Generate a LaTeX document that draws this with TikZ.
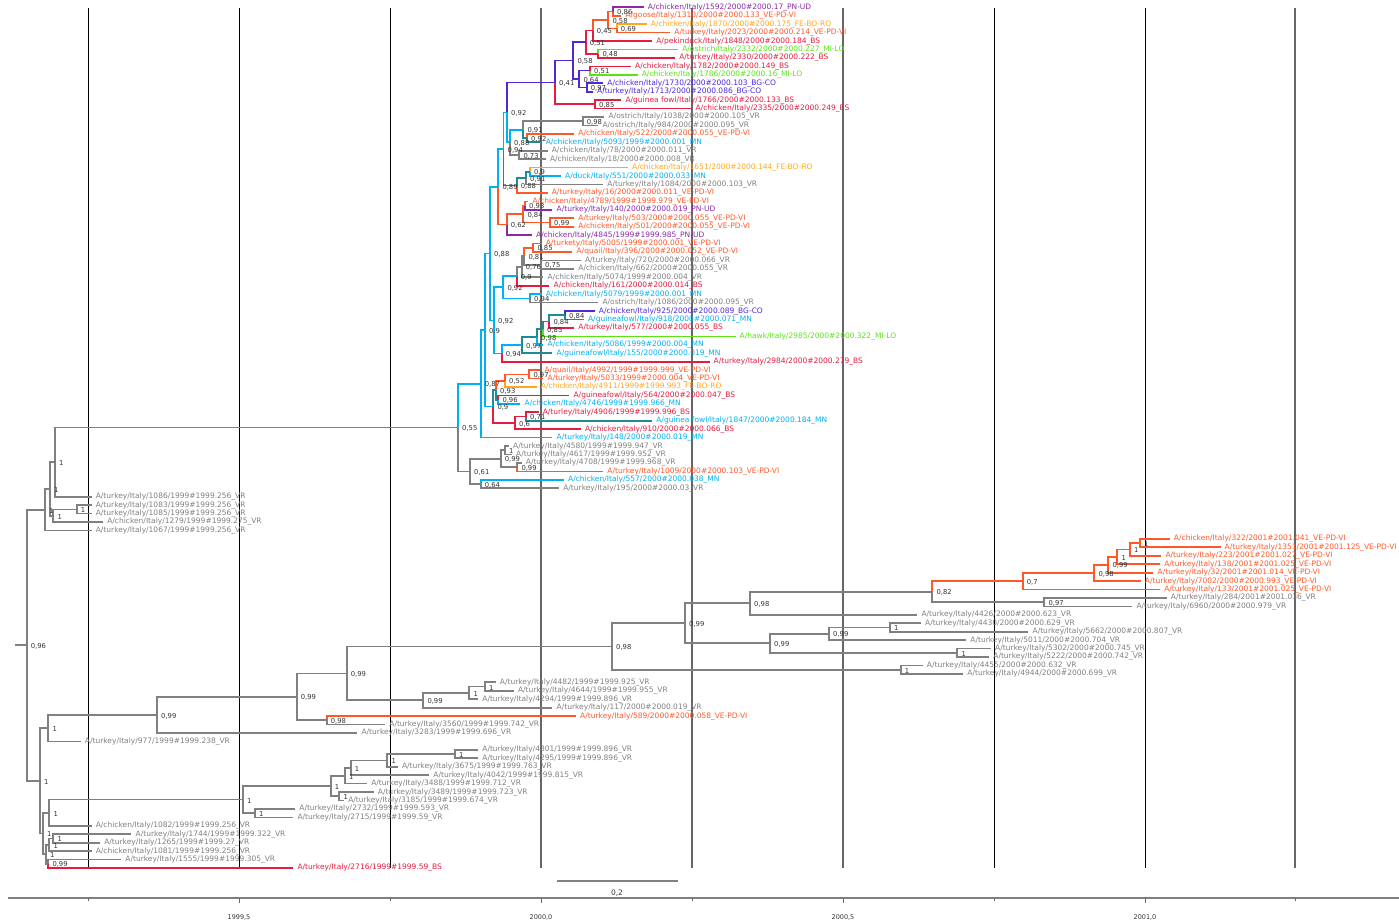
\documentclass[tikz,border=0pt]{standalone}
\usepackage{fontspec}
\setmainfont{DejaVu Sans}
\usetikzlibrary{calc}
\definecolor{cVR}{RGB}{128,128,128}
\definecolor{cMN}{RGB}{0,176,245}
\definecolor{cVE}{RGB}{255,88,40}
\definecolor{cFE}{RGB}{255,168,30}
\definecolor{cBS}{RGB}{228,28,64}
\definecolor{cPN}{RGB}{140,40,170}
\definecolor{cMI}{RGB}{90,228,20}
\definecolor{cBG}{RGB}{80,40,220}
\definecolor{cteal}{RGB}{30,138,150}

\tikzset{
  branch/.style={line width=1.7pt},
  tiplab/.style={anchor=west,inner sep=0pt,xshift=4pt,font=\fontsize{7.5}{8}\selectfont},
  nodelab/.style={anchor=west,inner sep=0pt,font=\fontsize{6.8}{7}\selectfont,text=black!80},
  gridline/.style={line width=1pt},
  axisline/.style={line width=1.8pt,black!50},
  ticklab/.style={inner sep=0pt,font=\fontsize{6.5}{7}\selectfont,text=black!80},
}

% tip: name, row, date, colour, strain, region
\newcommand\tip[6]{%
  \pgfmathsetmacro\tipx{541+(#3-2000)*604}%
  \pgfmathsetmacro\tipy{7.3+8.438*#2}%
  \coordinate (#1) at (\tipx,\tipy);
  \node[tiplab,text=#4] (#1-lab) at (#1) {#5\##3\_#6};
}
% internal node: name, x, child1, colour1, child2, colour2, support
\newcommand\inode[7]{%
  \coordinate (#1-m) at ($(#3)!0.5!(#5)$);
  \coordinate (#1) at (#2,0 |- #1-m);
  \draw[branch,#4] (#1) |- (#3);
  \draw[branch,#6] (#1) |- (#5);
  \node[nodelab] (#1-lab) at ([shift={(4,1)}]#1) {#7};
}

\begin{document}
\begin{tikzpicture}[x=1pt,y=-1pt]
\useasboundingbox (0,0) rectangle (1399,923);

% time grid
\foreach \gx in {88,239,390,994,1145}
  \draw[gridline,black] (\gx,8) -- (\gx,868);
\foreach \gx in {541,692,843,1295}
  \draw[gridline,black!60,line width=1.3pt] (\gx,8) -- (\gx,868);

% tips
\tip{t1592}{0}{2000.17}{cPN}{A/chicken/Italy/1592/2000}{PN-UD}
\tip{t1310}{1}{2000.133}{cVE}{A/goose/Italy/1310/2000}{VE-PD-VI}
\tip{t1870}{2}{2000.175}{cFE}{A/chicken/Italy/1870/2000}{FE-BO-RO}
\tip{t2023}{3}{2000.214}{cVE}{A/turkey/Italy/2023/2000}{VE-PD-VI}
\tip{t1848}{4}{2000.184}{cBS}{A/pekinduck/Italy/1848/2000}{BS}
\tip{t2332}{5}{2000.227}{cMI}{A/ostrich/Italy/2332/2000}{MI-LO}
\tip{t2330}{6}{2000.222}{cBS}{A/turkey/Italy/2330/2000}{BS}
\tip{t1782}{7}{2000.149}{cBS}{A/chicken/Italy/1782/2000}{BS}
\tip{t1786}{8}{2000.16}{cMI}{A/chicken/Italy/1786/2000}{MI-LO}
\tip{t1730}{9}{2000.103}{cBG}{A/chicken/Italy/1730/2000}{BG-CO}
\tip{t1713}{10}{2000.086}{cBG}{A/turkey/Italy/1713/2000}{BG-CO}
\tip{t1766}{11}{2000.133}{cBS}{A/guinea fowl/Italy/1766/2000}{BS}
\tip{t2335}{12}{2000.249}{cBS}{A/chicken/Italy/2335/2000}{BS}
\tip{t1038}{13}{2000.105}{cVR}{A/ostrich/Italy/1038/2000}{VR}
\tip{t984}{14}{2000.095}{cVR}{A/ostrich/Italy/984/2000}{VR}
\tip{t522}{15}{2000.055}{cVE}{A/chicken/Italy/522/2000}{VE-PD-VI}
\tip{t5093}{16}{2000.001}{cMN}{A/chicken/Italy/5093/1999}{MN}
\tip{t78}{17}{2000.011}{cVR}{A/chicken/Italy/78/2000}{VR}
\tip{t18}{18}{2000.008}{cVR}{A/chicken/Italy/18/2000}{VR}
\tip{t1651}{19}{2000.144}{cFE}{A/chicken/Italy/1651/2000}{FE-BO-RO}
\tip{t551}{20}{2000.033}{cMN}{A/duck/Italy/551/2000}{MN}
\tip{t1084}{21}{2000.103}{cVR}{A/turkey/Italy/1084/2000}{VR}
\tip{t16}{22}{2000.011}{cVE}{A/turkey/Italy/16/2000}{VE-PD-VI}
\tip{t4789}{23}{1999.979}{cVE}{A/chicken/Italy/4789/1999}{VE-PD-VI}
\tip{t140}{24}{2000.019}{cPN}{A/turkey/Italy/140/2000}{PN-UD}
\tip{t503}{25}{2000.055}{cVE}{A/turkey/Italy/503/2000}{VE-PD-VI}
\tip{t501}{26}{2000.055}{cVE}{A/chicken/Italy/501/2000}{VE-PD-VI}
\tip{t4845}{27}{1999.985}{cPN}{A/chicken/Italy/4845/1999}{PN-UD}
\tip{t5005}{28}{2000.001}{cVE}{A/turkety/Italy/5005/1999}{VE-PD-VI}
\tip{t396}{29}{2000.052}{cVE}{A/quail/Italy/396/2000}{VE-PD-VI}
\tip{t720}{30}{2000.066}{cVR}{A/turkey/Italy/720/2000}{VR}
\tip{t662}{31}{2000.055}{cVR}{A/chicken/Italy/662/2000}{VR}
\tip{t5074}{32}{2000.004}{cVR}{A/chicken/Italy/5074/1999}{VR}
\tip{t161}{33}{2000.014}{cBS}{A/chicken/Italy/161/2000}{BS}
\tip{t5079}{34}{2000.001}{cMN}{A/chicken/Italy/5079/1999}{MN}
\tip{t1086o}{35}{2000.095}{cVR}{A/ostrich/Italy/1086/2000}{VR}
\tip{t925}{36}{2000.089}{cBG}{A/chicken/Italy/925/2000}{BG-CO}
\tip{t918}{37}{2000.071}{cMN}{A/guineafowl/Italy/918/2000}{MN}
\tip{t577}{38}{2000.055}{cBS}{A/turkey/Italy/577/2000}{BS}
\tip{t2985}{39}{2000.322}{cMI}{A/hawk/Italy/2985/2000}{MI-LO}
\tip{t5086}{40}{2000.004}{cMN}{A/chicken/Italy/5086/1999}{MN}
\tip{t155}{41}{2000.019}{cMN}{A/guineafowl/Italy/155/2000}{MN}
\tip{t2984}{42}{2000.279}{cBS}{A/turkey/Italy/2984/2000}{BS}
\tip{t4992}{43}{1999.999}{cVE}{A/quail/Italy/4992/1999}{VE-PD-VI}
\tip{t5033}{44}{2000.004}{cVE}{A/turkey/Italy/5033/1999}{VE-PD-VI}
\tip{t4911}{45}{1999.993}{cFE}{A/chicken/Italy/4911/1999}{FE-BO-RO}
\tip{t564}{46}{2000.047}{cBS}{A/guineafowl/Italy/564/2000}{BS}
\tip{t4746}{47}{1999.966}{cMN}{A/chicken/Italy/4746/1999}{MN}
\tip{t4906}{48}{1999.996}{cBS}{A/turley/Italy/4906/1999}{BS}
\tip{t1847}{49}{2000.184}{cMN}{A/guinea fowl/Italy/1847/2000}{MN}
\tip{t910}{50}{2000.066}{cBS}{A/chicken/Italy/910/2000}{BS}
\tip{t148}{51}{2000.019}{cMN}{A/turkey/Italy/148/2000}{MN}
\tip{t4580}{52}{1999.947}{cVR}{A/turkey/Italy/4580/1999}{VR}
\tip{t4617}{53}{1999.952}{cVR}{A/turkey/Italy/4617/1999}{VR}
\tip{t4708}{54}{1999.968}{cVR}{A/turkey/Italy/4708/1999}{VR}
\tip{t1009}{55}{2000.103}{cVE}{A/turkey/Italy/1009/2000}{VE-PD-VI}
\tip{t557}{56}{2000.038}{cMN}{A/chicken/Italy/557/2000}{MN}
\tip{t195}{57}{2000.03}{cVR}{A/turkey/Italy/195/2000}{VR}
\tip{t1086}{58}{1999.256}{cVR}{A/turkey/Italy/1086/1999}{VR}
\tip{t1083}{59}{1999.256}{cVR}{A/turkey/Italy/1083/1999}{VR}
\tip{t1085}{60}{1999.256}{cVR}{A/turkey/Italy/1085/1999}{VR}
\tip{t1279}{61}{1999.275}{cVR}{A/chicken/Italy/1279/1999}{VR}
\tip{t1067}{62}{1999.256}{cVR}{A/turkey/Italy/1067/1999}{VR}
\tip{t322}{63}{2001.041}{cVE}{A/chicken/Italy/322/2001}{VE-PD-VI}
\tip{t1351}{64}{2001.125}{cVE}{A/turkey/Italy/1351/2001}{VE-PD-VI}
\tip{t223}{65}{2001.027}{cVE}{A/turkey/Italy/223/2001}{VE-PD-VI}
\tip{t138}{66}{2001.025}{cVE}{A/turkey/Italy/138/2001}{VE-PD-VI}
\tip{t32}{67}{2001.014}{cVE}{A/turkey/Italy/32/2001}{VE-PD-VI}
\tip{t7002}{68}{2000.993}{cVE}{A/turkey/Italy/7002/2000}{VE-PD-VI}
\tip{t133}{69}{2001.025}{cVE}{A/turkey/Italy/133/2001}{VE-PD-VI}
\tip{t284}{70}{2001.036}{cVR}{A/turkey/Italy/284/2001}{VR}
\tip{t6960}{71}{2000.979}{cVR}{A/turkey/Italy/6960/2000}{VR}
\tip{t4426}{72}{2000.623}{cVR}{A/turkey/Italy/4426/2000}{VR}
\tip{t4430}{73}{2000.629}{cVR}{A/turkey/Italy/4430/2000}{VR}
\tip{t5662}{74}{2000.807}{cVR}{A/turkey/Italy/5662/2000}{VR}
\tip{t5011}{75}{2000.704}{cVR}{A/turkey/Italy/5011/2000}{VR}
\tip{t5302}{76}{2000.745}{cVR}{A/turkey/Italy/5302/2000}{VR}
\tip{t5222}{77}{2000.742}{cVR}{A/turkey/Italy/5222/2000}{VR}
\tip{t4455}{78}{2000.632}{cVR}{A/turkey/Italy/4455/2000}{VR}
\tip{t4944}{79}{2000.699}{cVR}{A/turkey/Italy/4944/2000}{VR}
\tip{t4482}{80}{1999.925}{cVR}{A/turkey/Italy/4482/1999}{VR}
\tip{t4644}{81}{1999.955}{cVR}{A/turkey/Italy/4644/1999}{VR}
\tip{t4294}{82}{1999.896}{cVR}{A/turkey/Italy/4294/1999}{VR}
\tip{t117}{83}{2000.019}{cVR}{A/turkey/Italy/117/2000}{VR}
\tip{t589}{84}{2000.058}{cVE}{A/turkey/Italy/589/2000}{VE-PD-VI}
\tip{t3560}{85}{1999.742}{cVR}{A/turkey/Italy/3560/1999}{VR}
\tip{t3283}{86}{1999.696}{cVR}{A/turkey/Italy/3283/1999}{VR}
\tip{t977}{87}{1999.238}{cVR}{A/turkey/Italy/977/1999}{VR}
\tip{t4301}{88}{1999.896}{cVR}{A/turkey/Italy/4301/1999}{VR}
\tip{t4295}{89}{1999.896}{cVR}{A/turkey/Italy/4295/1999}{VR}
\tip{t3675}{90}{1999.763}{cVR}{A/turkey/Italy/3675/1999}{VR}
\tip{t4042}{91}{1999.815}{cVR}{A/turkey/Italy/4042/1999}{VR}
\tip{t3488}{92}{1999.712}{cVR}{A/turkey/Italy/3488/1999}{VR}
\tip{t3489}{93}{1999.723}{cVR}{A/turkey/Italy/3489/1999}{VR}
\tip{t3185}{94}{1999.674}{cVR}{A/turkey/Italy/3185/1999}{VR}
\tip{t2732}{95}{1999.593}{cVR}{A/turkey/Italy/2732/1999}{VR}
\tip{t2715}{96}{1999.59}{cVR}{A/turkey/Italy/2715/1999}{VR}
\tip{t1082}{97}{1999.256}{cVR}{A/chicken/Italy/1082/1999}{VR}
\tip{t1744}{98}{1999.322}{cVR}{A/turkey/Italy/1744/1999}{VR}
\tip{t1265}{99}{1999.27}{cVR}{A/turkey/Italy/1265/1999}{VR}
\tip{t1081}{100}{1999.256}{cVR}{A/chicken/Italy/1081/1999}{VR}
\tip{t1555}{101}{1999.305}{cVR}{A/turkey/Italy/1555/1999}{VR}
\tip{t2716}{102}{1999.59}{cBS}{A/turkey/Italy/2716/1999}{BS}

% upper clade
\inode{nA}{613}{t1592}{cPN}{t1310}{cVE}{0,86}
\inode{nB}{616.7}{t1870}{cFE}{t2023}{cVE}{0,69}
\inode{nC}{608.3}{nA}{cVE}{nB}{cVE}{0,58}
\inode{nD}{592.7}{nC}{cVE}{t1848}{cBS}{0,45}
\inode{nF}{598.3}{t2332}{cMI}{t2330}{cBS}{0,48}
\inode{nE}{585.7}{nD}{cBS}{nF}{cBS}{0,51}
\inode{nI}{590}{t1782}{cBS}{t1786}{cMI}{0,51}
\inode{nJ}{586.7}{t1730}{cBG}{t1713}{cBG}{0,97}
\inode{nH}{579.3}{nI}{cBG}{nJ}{cBG}{0,64}
\inode{nG}{573.3}{nE}{cBG}{nH}{cBG}{0,58}
\inode{nL}{595}{t1766}{cBS}{t2335}{cBS}{0,85}
\inode{nK}{555}{nG}{cBG}{nL}{cBS}{0,41}
\inode{n98a}{582.7}{t1038}{cVR}{t984}{cVR}{0,98}
\inode{n92b}{527}{t522}{cVE}{t5093}{cteal}{0,92}
\inode{n91a}{523.3}{n98a}{cVR}{n92b}{cteal}{0,91}
\inode{n73}{519.3}{t78}{cVR}{t18}{cVR}{0,73}
\inode{n88c}{510}{n91a}{cMN}{n73}{cVR}{0,88}
\inode{n92t}{507}{nK}{cBG}{n88c}{cMN}{0,92}
\inode{n9c}{530}{t1651}{cFE}{t551}{cMN}{0,9}
\inode{n91b}{526}{n9c}{cteal}{t1084}{cVR}{0,91}
\inode{n88a}{516.7}{n91b}{cteal}{t16}{cVE}{0,88}
\inode{n94a}{503.5}{n92t}{cMN}{n88a}{cteal}{0,94}
\inode{n93a}{525}{t4789}{cVE}{t140}{cPN}{0,93}
\inode{n99a}{550}{t503}{cVE}{t501}{cVE}{0,99}
\inode{n84c}{523.3}{n93a}{cVE}{n99a}{cVE}{0,84}
\inode{n62}{506.7}{n84c}{cVE}{t4845}{cPN}{0,62}
\inode{n89}{498.3}{n94a}{cMN}{n62}{cVE}{0,89}
\inode{n85a}{533.3}{t5005}{cVE}{t396}{cVE}{0,85}
\inode{n75}{541}{t720}{cVR}{t662}{cVR}{0,75}
\inode{n81}{524.3}{n85a}{cVE}{n75}{cVR}{0,81}
\inode{n76}{521.7}{n81}{cVR}{t5074}{cVR}{0,76}
\inode{n9a}{516.7}{n76}{cVR}{t161}{cBS}{0,9}
\inode{n94b}{530}{t5079}{cMN}{t1086o}{cVR}{0,94}
\inode{n92a}{503.3}{n9a}{cMN}{n94b}{cMN}{0,92}
\inode{n84a}{565}{t925}{cBG}{t918}{cteal}{0,84}
\inode{n84b}{549.3}{n84a}{cteal}{t577}{cBS}{0,84}
\inode{n85b}{543}{n84b}{cteal}{t2985}{cMI}{0,85}
\inode{n98f}{537}{n85b}{cteal}{t5086}{cMN}{0,98}
\inode{n97a}{522}{n98f}{cteal}{t155}{cteal}{0,97}
\inode{n94c}{501.7}{n97a}{cMN}{t2984}{cBS}{0,94}
\inode{n92c}{494}{n92a}{cMN}{n94c}{cMN}{0,92}
\inode{n88b}{490}{n89}{cMN}{n92c}{cMN}{0,88}
\inode{n97b}{529.3}{t4992}{cVE}{t5033}{cVE}{0,97}
\inode{n52}{505}{n97b}{cVE}{t4911}{cFE}{0,52}
\inode{n96}{498.3}{t564}{cBS}{t4746}{cMN}{0,96}
\inode{n93}{496}{n52}{cVE}{n96}{cteal}{0,93}
\inode{n71}{526}{t4906}{cBS}{t1847}{cteal}{0,71}
\inode{n6}{515}{n71}{cBS}{t910}{cBS}{0,6}
\inode{n9b}{493.3}{n93}{cteal}{n6}{cBS}{0,9}
\inode{n9}{485}{n88b}{cMN}{n9b}{cMN}{0,9}
\inode{n87}{480.7}{n9}{cMN}{t148}{cMN}{0,87}
\inode{n1o}{505}{t4580}{cVR}{t4617}{cVR}{1}
\inode{n99y}{517.3}{t4708}{cVR}{t1009}{cVE}{0,99}
\inode{n99b}{500.7}{n1o}{cVR}{n99y}{cVR}{0,99}
\inode{n64}{480.7}{t557}{cMN}{t195}{cVR}{0,64}
\inode{n61}{470}{n99b}{cVR}{n64}{cVR}{0,61}
\inode{n55}{458}{n87}{cMN}{n61}{cVR}{0,55}
\inode{n1a}{55}{n55}{cVR}{t1086}{cVR}{1}
\inode{n1c}{76.7}{t1083}{cVR}{t1085}{cVR}{1}
\inode{n1d}{53.3}{n1c}{cVR}{t1279}{cVR}{1}
\inode{n1e}{50}{n1a}{cVR}{n1d}{cVR}{1}
\inode{n1f}{45}{n1e}{cVR}{t1067}{cVR}{1}

% lower clade
\inode{r1}{1140}{t322}{cVE}{t1351}{cVE}{1}
\inode{r2}{1130}{r1}{cVE}{t223}{cVE}{1}
\inode{r3}{1117.3}{r2}{cVE}{t138}{cVE}{1}
\inode{r4}{1108.3}{r3}{cVE}{t32}{cVE}{0,99}
\inode{r5}{1094.3}{r4}{cVE}{t7002}{cVE}{0,98}
\inode{r6}{1022.7}{r5}{cVE}{t133}{cVE}{0,7}
\inode{g97}{1044.3}{t284}{cVR}{t6960}{cVR}{0,97}
\inode{g82}{932.3}{r6}{cVE}{g97}{cVR}{0,82}
\inode{g98e}{750}{g82}{cVR}{t4426}{cVR}{0,98}
\inode{g1u}{890}{t4430}{cVR}{t5662}{cVR}{1}
\inode{g99h}{829}{g1u}{cVR}{t5011}{cVR}{0,99}
\inode{g1v}{957.3}{t5302}{cVR}{t5222}{cVR}{1}
\inode{g99j}{770}{g99h}{cVR}{g1v}{cVR}{0,99}
\inode{g99k}{685}{g98e}{cVR}{g99j}{cVR}{0,99}
\inode{g1w}{900.7}{t4455}{cVR}{t4944}{cVR}{1}
\inode{g98b}{612}{g99k}{cVR}{g1w}{cVR}{0,98}
\inode{g1p}{485}{t4482}{cVR}{t4644}{cVR}{1}
\inode{g1q}{469.3}{g1p}{cVR}{t4294}{cVR}{1}
\inode{g99e}{423.3}{g1q}{cVR}{t117}{cVR}{0,99}
\inode{g99d}{346.7}{g98b}{cVR}{g99e}{cVR}{0,99}
\inode{g98c}{326.7}{t589}{cVE}{t3560}{cVR}{0,98}
\inode{g99c}{296.7}{g99d}{cVR}{g98c}{cVR}{0,99}
\inode{g99f}{157}{g99c}{cVR}{t3283}{cVR}{0,99}
\inode{g1g}{48.3}{g99f}{cVR}{t977}{cVR}{1}
\inode{l1x}{455}{t4301}{cVR}{t4295}{cVR}{1}
\inode{l1y}{387.3}{l1x}{cVR}{t3675}{cVR}{1}
\inode{l1z}{350.7}{l1y}{cVR}{t4042}{cVR}{1}
\inode{l1aa}{345}{l1z}{cVR}{t3488}{cVR}{1}
\inode{l1bb}{339.3}{t3489}{cVR}{t3185}{cVR}{1}
\inode{l1cc}{330.7}{l1aa}{cVR}{l1bb}{cVR}{1}
\inode{l1dd}{255}{t2732}{cVR}{t2715}{cVR}{1}
\inode{l1j}{243}{l1cc}{cVR}{l1dd}{cVR}{1}
\inode{l1i}{49.3}{l1j}{cVR}{t1082}{cVR}{1}
\inode{l1k}{53.3}{t1744}{cVR}{t1265}{cVR}{1}
\inode{l1l}{49.3}{l1k}{cVR}{t1081}{cVR}{1}
\inode{l99z}{48.3}{t1555}{cVR}{t2716}{cBS}{0,99}
\inode{l1m}{46}{l1l}{cVR}{l99z}{cVR}{1}
\inode{l1n}{43}{l1i}{cVR}{l1m}{cVR}{1}
\inode{l1h}{40}{g1g}{cVR}{l1n}{cVR}{1}
\inode{root}{26.7}{n1f}{cVR}{l1h}{cVR}{0,96}
\coordinate (rootstub) at (15,0 |- root);
\draw[branch,cVR] (rootstub) -- (root);

% scale bar
\coordinate (sbL) at (557,881);
\coordinate (sbR) at (678,881);
\draw[axisline] (sbL) -- (sbR);
\node[ticklab,font=\fontsize{7.5}{8}\selectfont] (sblab) at (617,893) {0,2};

% time axis
\coordinate (axL) at (8,898);
\coordinate (axR) at (1399,898);
\draw[axisline] (axL) -- (axR);
\foreach \gx in {88,390,692,994,1295}
  \draw[black!60,line width=0.8pt] (\gx,898) -- (\gx,901);
\foreach \gx/\yr in {239/{1999,5},541/{2000,0},843/{2000,5},1145/{2001,0}}{
  \draw[black!60,line width=0.8pt] (\gx,898) -- (\gx,903);
  \node[ticklab] (yr-\gx) at (\gx,917) {\yr};
}
\end{tikzpicture}
\end{document}
